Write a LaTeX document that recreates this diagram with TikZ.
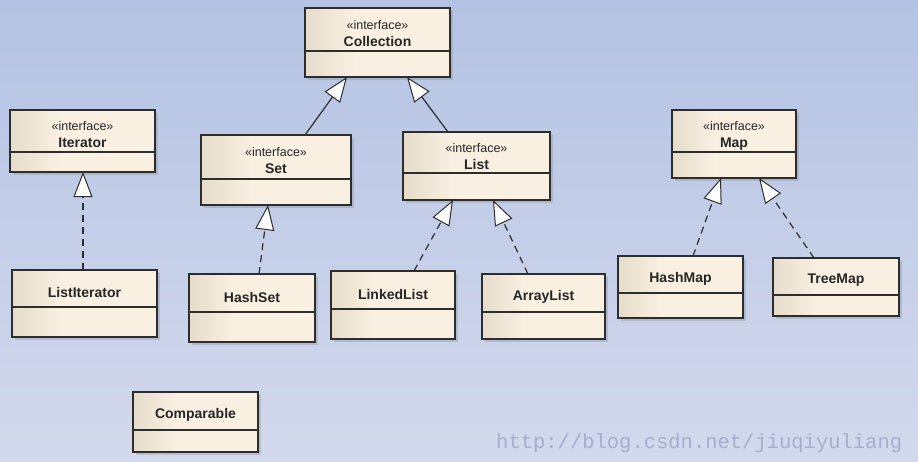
\documentclass[tikz,border=0pt]{standalone}
\usepackage{fontspec}
\setmainfont{Liberation Sans}
\newfontfamily\wmfont{Liberation Mono}
\usetikzlibrary{positioning,arrows.meta,shadows}

\definecolor{bgtop}{RGB}{180,195,227}
\definecolor{bgbot}{RGB}{211,217,237}
\definecolor{boxfill}{RGB}{250,240,225}
\definecolor{boxdark}{RGB}{230,220,203}
\definecolor{umlline}{RGB}{45,45,45}
\definecolor{wmgray}{RGB}{165,175,205}

\pgfdeclarehorizontalshading{classfill}{100bp}{color(0bp)=(boxdark); color(25bp)=(boxdark); color(42bp)=(boxfill); color(100bp)=(boxfill)}

% nome con stereotipo, un po' sotto il centro come nell'originale
\newcommand{\iface}[1]{\raisebox{-5pt}[\height][\depth]{\begin{tabular}{@{}c@{}}{\mdseries\fontsize{12.5}{15}\selectfont «interface»}\\#1\end{tabular}}}
\newcommand{\cname}[1]{\raisebox{-4pt}[\height][\depth]{#1}}

\tikzset{
  classhead/.style={draw=umlline, line width=1.2pt, shading=classfill, outer sep=0pt, inner sep=1pt,
    font=\fontsize{14}{17}\selectfont\bfseries, text=black!85,
    drop shadow={shadow xshift=2.5pt, shadow yshift=-2.5pt, opacity=0.3}},
  classbody/.style={draw=umlline, line width=1.2pt, shading=classfill, outer sep=0pt, inner sep=0pt,
    drop shadow={shadow xshift=2.5pt, shadow yshift=-2.5pt, opacity=0.3}},
  inherit/.style={draw=umlline, line width=1.2pt, -{Triangle[fill=white, length=25pt, width=19pt, line width=1pt]}},
  realize/.style={inherit, dash pattern=on 7pt off 5pt}
}

\begin{document}
\begin{tikzpicture}[x=1pt, y=-1pt]

        % Sfondo
        \fill[top color=bgtop, bottom color=bgbot] (0,0) rectangle (918,461);

        % Interfacce
        \node[classhead, minimum width=145pt, minimum height=43pt] (collection) at (377.5,29.5) {\iface{Collection}};
        \node[classbody, minimum width=145pt, minimum height=26pt, below=0pt of collection] (collection-b) {};
        \node[classhead, minimum width=145pt, minimum height=42pt] (iterator) at (82.5,131) {\iface{Iterator}};
        \node[classbody, minimum width=145pt, minimum height=20pt, below=0pt of iterator] (iterator-b) {};
        \node[classhead, minimum width=150pt, minimum height=44pt] (set) at (276,157) {\iface{Set}};
        \node[classbody, minimum width=150pt, minimum height=26pt, below=0pt of set] (set-b) {};
        \node[classhead, minimum width=147pt, minimum height=41pt] (list) at (476.5,152.5) {\iface{List}};
        \node[classbody, minimum width=147pt, minimum height=27pt, below=0pt of list] (list-b) {};
        \node[classhead, minimum width=124pt, minimum height=42pt] (map) at (734,131) {\iface{Map}};
        \node[classbody, minimum width=124pt, minimum height=26pt, below=0pt of map] (map-b) {};

        % Classi
        \node[classhead, minimum width=145pt, minimum height=37pt] (listiterator) at (84.5,288.5) {\cname{ListIterator}};
        \node[classbody, minimum width=145pt, minimum height=30pt, below=0pt of listiterator] (listiterator-b) {};
        \node[classhead, minimum width=126pt, minimum height=38pt] (hashset) at (252,293) {\cname{HashSet}};
        \node[classbody, minimum width=126pt, minimum height=30pt, below=0pt of hashset] (hashset-b) {};
        \node[classhead, minimum width=124pt, minimum height=38pt] (linkedlist) at (393,290) {\cname{LinkedList}};
        \node[classbody, minimum width=124pt, minimum height=30pt, below=0pt of linkedlist] (linkedlist-b) {};
        \node[classhead, minimum width=123pt, minimum height=38pt] (arraylist) at (543.5,293) {\cname{ArrayList}};
        \node[classbody, minimum width=123pt, minimum height=27pt, below=0pt of arraylist] (arraylist-b) {};
        \node[classhead, minimum width=125pt, minimum height=37pt] (hashmap) at (680.5,274.5) {\cname{HashMap}};
        \node[classbody, minimum width=125pt, minimum height=25pt, below=0pt of hashmap] (hashmap-b) {};
        \node[classhead, minimum width=126pt, minimum height=37pt] (treemap) at (836,276.5) {\cname{TreeMap}};
        \node[classbody, minimum width=126pt, minimum height=21pt, below=0pt of treemap] (treemap-b) {};
        \node[classhead, minimum width=125pt, minimum height=38pt] (comparable) at (195.5,411) {\cname{Comparable}};
        \node[classbody, minimum width=125pt, minimum height=22pt, below=0pt of comparable] (comparable-b) {};

        % Archi
        \draw[inherit] ([xshift=29pt]set.north) -- ([xshift=-30.5pt]collection-b.south);
        \draw[inherit] ([xshift=-28.5pt]list.north) -- ([xshift=29.5pt]collection-b.south);
        \draw[realize] ([xshift=-1.5pt]listiterator.north) -- ([xshift=0.5pt]iterator-b.south);
        \draw[realize] ([xshift=7pt]hashset.north) -- ([xshift=-8pt]set-b.south);
        \draw[realize] ([xshift=21pt]linkedlist.north) -- ([xshift=-23.5pt]list-b.south);
        \draw[realize] ([xshift=-15.5pt]arraylist.north) -- ([xshift=16.5pt]list-b.south);
        \draw[realize] ([xshift=12.5pt]hashmap.north) -- ([xshift=-13pt]map-b.south);
        \draw[realize] ([xshift=-22pt]treemap.north) -- ([xshift=25pt]map-b.south);

        % Filigrana
        \node[font=\wmfont\fontsize{20.5}{24}\selectfont, text=wmgray, anchor=west, inner sep=0pt] (watermark) at (496,443) {http://blog.csdn.net/jiuqiyuliang};
\end{tikzpicture}
\end{document}
